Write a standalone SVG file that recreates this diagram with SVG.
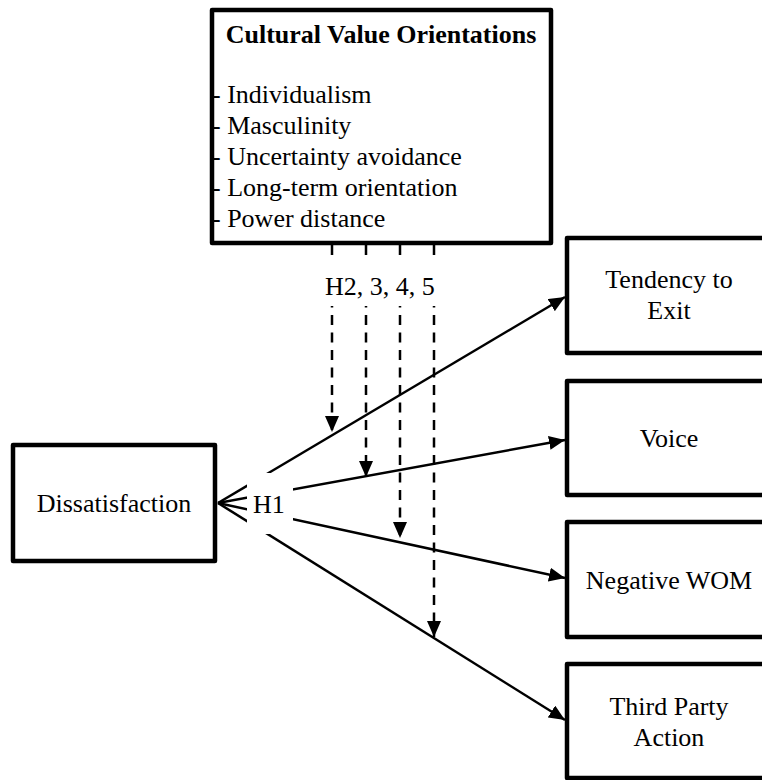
<svg xmlns="http://www.w3.org/2000/svg" width="762" height="780" viewBox="0 0 762 780">
<style>
.box{fill:#fff;stroke:#000;stroke-width:4.5;stroke-linejoin:round}
.t{font-family:"Liberation Serif","Times New Roman",serif;font-size:26px;fill:#000}
.c{text-anchor:middle}
.b{font-weight:bold}
.solid{stroke:#000;stroke-width:2.5;fill:none}
.dash{stroke:#000;stroke-width:2.5;fill:none;stroke-dasharray:10 7.5}
.mask{fill:#fff;stroke:none}
</style>
<defs>
<marker id="arr" markerUnits="userSpaceOnUse" markerWidth="17" markerHeight="14" refX="16" refY="7" orient="auto">
<path d="M0,0 L16,7 L0,14 z" fill="#000"/>
</marker>
</defs>
<rect width="762" height="780" fill="#fff"/>
<g id="connectors">
<line class="solid" x1="218" y1="503" x2="565" y2="297" marker-end="url(#arr)"/>
<line class="solid" x1="218" y1="503" x2="565" y2="440" marker-end="url(#arr)"/>
<line class="solid" x1="218" y1="503" x2="565" y2="578" marker-end="url(#arr)"/>
<line class="solid" x1="218" y1="503" x2="565" y2="720" marker-end="url(#arr)"/>
<line class="dash" x1="332" y1="245" x2="332" y2="432" marker-end="url(#arr)"/>
<line class="dash" x1="366" y1="245" x2="366" y2="477" marker-end="url(#arr)"/>
<line class="dash" x1="400" y1="245" x2="400" y2="538" marker-end="url(#arr)"/>
<line class="dash" x1="434" y1="245" x2="434" y2="637" marker-end="url(#arr)"/>
</g>
<g id="label-h1">
<rect class="mask" x="247" y="473" width="46" height="61"/>
<text class="t" x="253" y="513">H1</text>
</g>
<g id="label-h2-5">
<rect class="mask" x="318" y="256" width="126" height="50"/>
<text class="t" x="325" y="295">H2, 3, 4, 5</text>
</g>
<g id="cultural">
<rect class="box" x="212" y="10" width="339" height="233"/>
<text class="t c b" x="381" y="43">Cultural Value Orientations</text>
<text class="t" x="212" y="103">- Individualism</text>
<text class="t" x="212" y="134">- Masculinity</text>
<text class="t" x="212" y="165">- Uncertainty avoidance</text>
<text class="t" x="212" y="196">- Long-term orientation</text>
<text class="t" x="212" y="227">- Power distance</text>
</g>
<g id="dissatisfaction">
<rect class="box" x="13" y="445" width="202" height="116"/>
<text class="t c" x="114" y="512">Dissatisfaction</text>
</g>
<g id="exit">
<rect class="box" x="567" y="238" width="204" height="115"/>
<text class="t c" x="669" y="288">Tendency to</text>
<text class="t c" x="669" y="319">Exit</text>
</g>
<g id="voice">
<rect class="box" x="567" y="381" width="204" height="114"/>
<text class="t c" x="669" y="447">Voice</text>
</g>
<g id="wom">
<rect class="box" x="567" y="522" width="204" height="115"/>
<text class="t c" x="669" y="589">Negative WOM</text>
</g>
<g id="thirdparty">
<rect class="box" x="567" y="664" width="204" height="114"/>
<text class="t c" x="669" y="715">Third Party</text>
<text class="t c" x="669" y="746">Action</text>
</g>
</svg>
